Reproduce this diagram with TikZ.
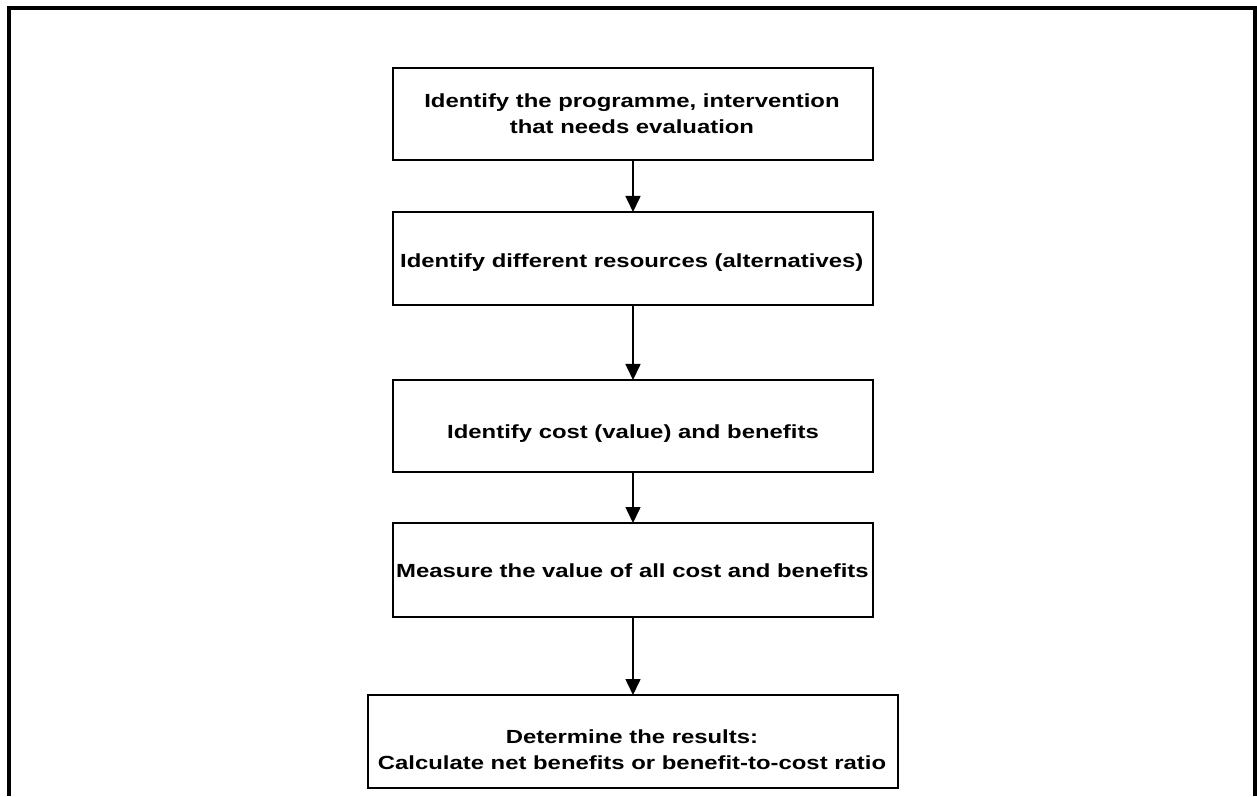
\documentclass[tikz,border=0pt]{standalone}
\usepackage{fontspec}
\setmainfont{Liberation Sans}[FakeStretch=1.257]
\usetikzlibrary{arrows.meta}
\begin{document}
\begin{tikzpicture}[x=1pt,y=1pt,
  stepbox/.style={draw, line width=2.6pt, minimum width=480pt, inner sep=0pt, outer sep=0pt},
  steptext/.style={font=\fontsize{19}{26}\selectfont\bfseries, inner sep=0pt, align=center},
  flow/.style={line width=1.6pt, -{Triangle[length=16pt,width=15pt]}}]
\useasboundingbox (0,0) rectangle (1257,796);
% open frame round the chart
\draw[line width=3.5pt] (9,0) -- (9,788) -- (1255,788) -- (1255,0);
% step boxes
\node[stepbox, minimum height=92pt] (s1) at (633,682) {};
\node[stepbox, minimum height=93pt] (s2) at (633,537.5) {};
\node[stepbox, minimum height=92pt] (s3) at (633,370) {};
\node[stepbox, minimum height=94pt] (s4) at (633,226) {};
\node[stepbox, minimum height=93pt, minimum width=530pt] (s5) at (633,54.5) {};
% step texts (base anchor sits on the last line)
\node[steptext, anchor=base] (t1) at (632,662) {Identify the programme, intervention\\that needs evaluation};
\node[steptext, anchor=base west] (t2) at (400,528) {Identify different resources (alternatives)};
\node[steptext, anchor=base west] (t3) at (447,358) {Identify cost (value) and benefits};
\node[steptext, anchor=base west] (t4) at (396,219) {Measure the value of all cost and benefits};
\node[steptext, anchor=base] (t5) at (632,27) {Determine the results:\\Calculate net benefits or benefit-to-cost ratio};
% connectors
\draw[flow] (s1) -- (s2);
\draw[flow] (s2) -- (s3);
\draw[flow] (s3) -- (s4);
\draw[flow] (s4) -- (s5);
\end{tikzpicture}
\end{document}
